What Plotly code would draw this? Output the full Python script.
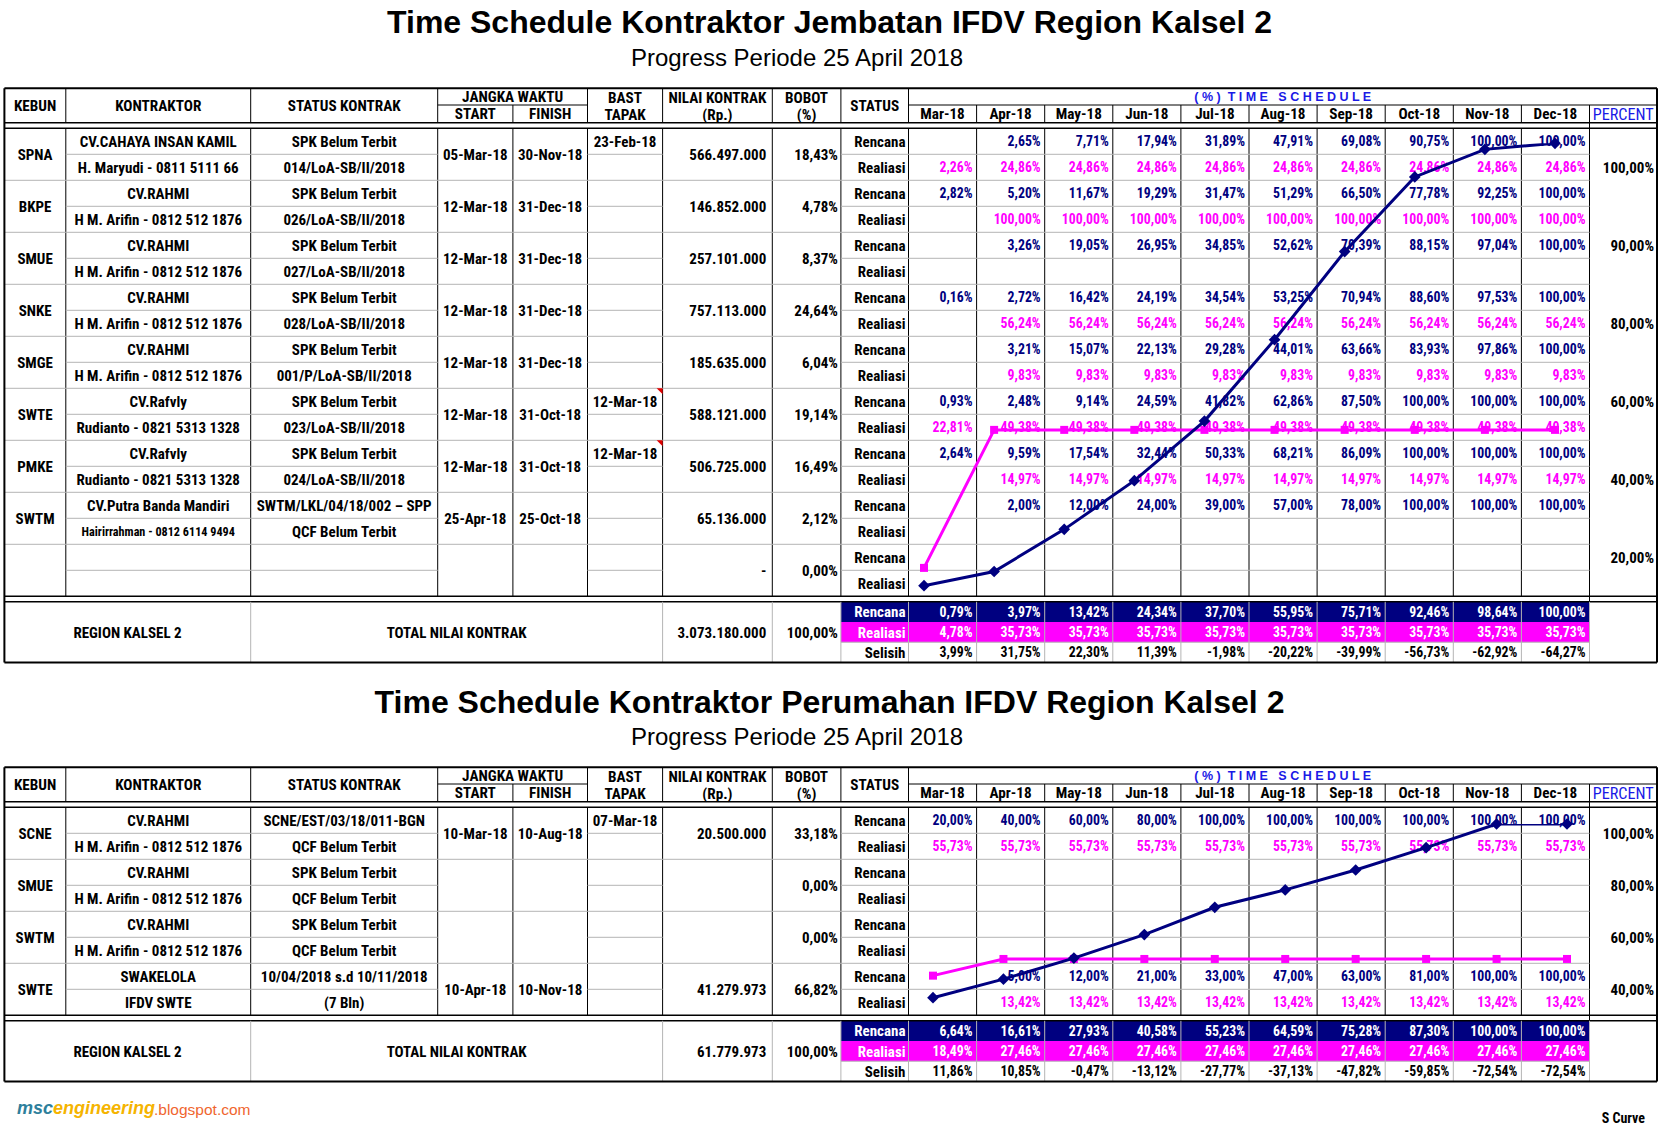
import plotly.graph_objects as go

# ===================== DATA =====================
months = ["Mar-18", "Apr-18", "May-18", "Jun-18", "Jul-18",
          "Aug-18", "Sep-18", "Oct-18", "Nov-18", "Dec-18"]

title1 = "Time Schedule Kontraktor Jembatan IFDV Region Kalsel 2"
title2 = "Time Schedule Kontraktor Perumahan IFDV Region Kalsel 2"
subtitle = "Progress Periode 25 April 2018"

N = None

# ---- Table 1 (Jembatan) ----
t1_kebun = ["SPNA", "BKPE", "SMUE", "SNKE", "SMGE", "SWTE", "PMKE", "SWTM", ""]
t1_kontraktor = [
    ["CV.CAHAYA INSAN KAMIL", "H. Maryudi - 0811 5111 66"],
    ["CV.RAHMI", "H M. Arifin - 0812 512 1876"],
    ["CV.RAHMI", "H M. Arifin - 0812 512 1876"],
    ["CV.RAHMI", "H M. Arifin - 0812 512 1876"],
    ["CV.RAHMI", "H M. Arifin - 0812 512 1876"],
    ["CV.Rafvly", "Rudianto - 0821 5313 1328"],
    ["CV.Rafvly", "Rudianto - 0821 5313 1328"],
    ["CV.Putra Banda Mandiri", "Hairirrahman - 0812 6114 9494"],
    ["", ""],
]
t1_status_kontrak = [
    ["SPK Belum Terbit", "014/LoA-SB/II/2018"],
    ["SPK Belum Terbit", "026/LoA-SB/II/2018"],
    ["SPK Belum Terbit", "027/LoA-SB/II/2018"],
    ["SPK Belum Terbit", "028/LoA-SB/II/2018"],
    ["SPK Belum Terbit", "001/P/LoA-SB/II/2018"],
    ["SPK Belum Terbit", "023/LoA-SB/II/2018"],
    ["SPK Belum Terbit", "024/LoA-SB/II/2018"],
    ["SWTM/LKL/04/18/002 \u2013 SPP", "QCF Belum Terbit"],
    ["", ""],
]
t1_start = ["05-Mar-18", "12-Mar-18", "12-Mar-18", "12-Mar-18", "12-Mar-18",
            "12-Mar-18", "12-Mar-18", "25-Apr-18", ""]
t1_finish = ["30-Nov-18", "31-Dec-18", "31-Dec-18", "31-Dec-18", "31-Dec-18",
             "31-Oct-18", "31-Oct-18", "25-Oct-18", ""]
t1_bast = ["23-Feb-18", "", "", "", "", "12-Mar-18", "12-Mar-18", "", ""]
t1_nilai = ["566.497.000", "146.852.000", "257.101.000", "757.113.000", "185.635.000",
            "588.121.000", "506.725.000", "65.136.000", "-"]
t1_bobot = [18.43, 4.78, 8.37, 24.64, 6.04, 19.14, 16.49, 2.12, 0.00]
t1_rencana = [
    [N, 2.65, 7.71, 17.94, 31.89, 47.91, 69.08, 90.75, 100.00, 100.00],
    [2.82, 5.20, 11.67, 19.29, 31.47, 51.29, 66.50, 77.78, 92.25, 100.00],
    [N, 3.26, 19.05, 26.95, 34.85, 52.62, 70.39, 88.15, 97.04, 100.00],
    [0.16, 2.72, 16.42, 24.19, 34.54, 53.25, 70.94, 88.60, 97.53, 100.00],
    [N, 3.21, 15.07, 22.13, 29.28, 44.01, 63.66, 83.93, 97.86, 100.00],
    [0.93, 2.48, 9.14, 24.59, 41.82, 62.86, 87.50, 100.00, 100.00, 100.00],
    [2.64, 9.59, 17.54, 32.44, 50.33, 68.21, 86.09, 100.00, 100.00, 100.00],
    [N, 2.00, 12.00, 24.00, 39.00, 57.00, 78.00, 100.00, 100.00, 100.00],
    [N, N, N, N, N, N, N, N, N, N],
]
t1_realisasi = [
    [2.26, 24.86, 24.86, 24.86, 24.86, 24.86, 24.86, 24.86, 24.86, 24.86],
    [N, 100.00, 100.00, 100.00, 100.00, 100.00, 100.00, 100.00, 100.00, 100.00],
    [N, N, N, N, N, N, N, N, N, N],
    [N, 56.24, 56.24, 56.24, 56.24, 56.24, 56.24, 56.24, 56.24, 56.24],
    [N, 9.83, 9.83, 9.83, 9.83, 9.83, 9.83, 9.83, 9.83, 9.83],
    [22.81, 49.38, 49.38, 49.38, 49.38, 49.38, 49.38, 49.38, 49.38, 49.38],
    [N, 14.97, 14.97, 14.97, 14.97, 14.97, 14.97, 14.97, 14.97, 14.97],
    [N, N, N, N, N, N, N, N, N, N],
    [N, N, N, N, N, N, N, N, N, N],
]
t1_sum_rencana = [0.79, 3.97, 13.42, 24.34, 37.70, 55.95, 75.71, 92.46, 98.64, 100.00]
t1_sum_realisasi = [4.78, 35.73, 35.73, 35.73, 35.73, 35.73, 35.73, 35.73, 35.73, 35.73]
t1_sum_selisih = [3.99, 31.75, 22.30, 11.39, -1.98, -20.22, -39.99, -56.73, -62.92, -64.27]
t1_total_nilai = "3.073.180.000"
t1_total_bobot = 100.00
t1_percent_labels = ["100,00%", "90,00%", "80,00%", "60,00%", "40,00%", "20,00%"]
t1_percent_rows = [1, 4, 7, 10, 13, 16]          # sub-row index where each label sits
t1_comment_marks = [5, 6]                           # BAST cells with a comment marker

# ---- Table 2 (Perumahan) ----
t2_kebun = ["SCNE", "SMUE", "SWTM", "SWTE"]
t2_kontraktor = [
    ["CV.RAHMI", "H M. Arifin - 0812 512 1876"],
    ["CV.RAHMI", "H M. Arifin - 0812 512 1876"],
    ["CV.RAHMI", "H M. Arifin - 0812 512 1876"],
    ["SWAKELOLA", "IFDV SWTE"],
]
t2_status_kontrak = [
    ["SCNE/EST/03/18/011-BGN", "QCF Belum Terbit"],
    ["SPK Belum Terbit", "QCF Belum Terbit"],
    ["SPK Belum Terbit", "QCF Belum Terbit"],
    ["10/04/2018 s.d 10/11/2018", "(7 Bln)"],
]
t2_start = ["10-Mar-18", "", "", "10-Apr-18"]
t2_finish = ["10-Aug-18", "", "", "10-Nov-18"]
t2_bast = ["07-Mar-18", "", "", ""]
t2_nilai = ["20.500.000", "", "", "41.279.973"]
t2_bobot = [33.18, 0.00, 0.00, 66.82]
t2_rencana = [
    [20.00, 40.00, 60.00, 80.00, 100.00, 100.00, 100.00, 100.00, 100.00, 100.00],
    [N, N, N, N, N, N, N, N, N, N],
    [N, N, N, N, N, N, N, N, N, N],
    [N, 5.00, 12.00, 21.00, 33.00, 47.00, 63.00, 81.00, 100.00, 100.00],
]
t2_realisasi = [
    [55.73, 55.73, 55.73, 55.73, 55.73, 55.73, 55.73, 55.73, 55.73, 55.73],
    [N, N, N, N, N, N, N, N, N, N],
    [N, N, N, N, N, N, N, N, N, N],
    [N, 13.42, 13.42, 13.42, 13.42, 13.42, 13.42, 13.42, 13.42, 13.42],
]
t2_sum_rencana = [6.64, 16.61, 27.93, 40.58, 55.23, 64.59, 75.28, 87.30, 100.00, 100.00]
t2_sum_realisasi = [18.49, 27.46, 27.46, 27.46, 27.46, 27.46, 27.46, 27.46, 27.46, 27.46]
t2_sum_selisih = [11.86, 10.85, -0.47, -13.12, -27.77, -37.13, -47.82, -59.85, -72.54, -72.54]
t2_total_nilai = "61.779.973"
t2_total_bobot = 100.00
t2_percent_labels = ["100,00%", "80,00%", "60,00%", "40,00%"]
t2_percent_rows = [0.5, 2.5, 4.5, 6.5]
t2_comment_marks = []

# ===================== STYLE / GEOMETRY =====================
W, H = 1661, 1133
NAVY = "#000080"
MAGENTA = "#FF00FF"
BLUE_HDR = "#1a1ae6"
GRAY = "#b4b4b4"
BLACK = "#000000"
NARROW = "Roboto Condensed, Liberation Sans, Arial, sans-serif"
SANS = "Liberation Sans, Arial, sans-serif"
FS = 15        # body font
FSV = 13.8     # month values
FSH = 15.2     # header font

XL, XR = 4.4, 1657
C_KEBUN, C_KON, C_STK, C_START, C_FIN, C_BAST, C_NIL, C_BOB, C_STAT = (
    65.8, 250.7, 437.7, 512.9, 587.5, 662.6, 772.3, 840.9, 908.5)
MONTH_W = 68.1
M_EDGES = [C_STAT + MONTH_W * k for k in range(11)]
C_PCT = M_EDGES[-1]

ROW = 26.0

shapes = []
TX = dict(x=[], y=[], text=[], pos=[], color=[], size=[], family=[])


def fmt(v):
    if v is None:
        return ""
    return ("%.2f" % v).replace(".", ",") + "%"


def put(x, y, s, align="center", color=BLACK, size=FS, family=NARROW, bold=True):
    if s is None or s == "":
        return
    pos = {"center": "middle center", "right": "middle left", "left": "middle right"}[align]
    TX["x"].append(x)
    TX["y"].append(y + 0.11 * size)
    TX["text"].append("<b>%s</b>" % s if bold else s)
    TX["pos"].append(pos)
    TX["color"].append(color)
    TX["size"].append(size)
    TX["family"].append(family)


def hline(y, x0, x1, color=BLACK, w=1):
    shapes.append(dict(type="line", xref="x", yref="y", x0=x0, x1=x1, y0=y, y1=y,
                       line=dict(color=color, width=w), layer="below"))


def vline(x, y0, y1, color=BLACK, w=1):
    shapes.append(dict(type="line", xref="x", yref="y", x0=x, x1=x, y0=y0, y1=y1,
                       line=dict(color=color, width=w), layer="below"))


def rect(x0, y0, x1, y1, color):
    shapes.append(dict(type="rect", xref="x", yref="y", x0=x0, x1=x1, y0=y0, y1=y1,
                       line=dict(width=0), fillcolor=color, layer="below"))


def draw_table(top, kebun, kontraktor, stk, start, finish, bast, nilai, bobot,
               rencana, realisasi, s_ren, s_rea, s_sel, tot_nilai, tot_bobot,
               pct_labels, pct_rows, marks):
    y_mid = top + 16.7
    y_hb = top + 34.4
    y_b0 = top + 40.0
    ng = len(kebun)
    y_bb = y_b0 + 2 * ROW * ng
    y_s0 = y_bb + 5.5
    sr = 20.2
    y_bot = y_s0 + 3 * sr

    rect(C_BOB, y_s0, C_PCT, y_s0 + sr, NAVY)
    rect(C_BOB, y_s0 + sr, C_PCT, y_s0 + 2 * sr, MAGENTA)

    hline(top, XL, XR, w=2)
    hline(y_mid, C_STK, C_FIN)
    hline(y_mid, C_STAT, XR)
    hline(y_hb, XL, XR, w=1.5)
    hline(y_b0, XL, XR, w=1.5)
    for x in [C_KEBUN, C_KON, C_STK, C_FIN, C_BAST, C_NIL, C_BOB, C_STAT]:
        vline(x, top, y_hb)
    for x in [C_START] + M_EDGES[1:]:
        vline(x, y_mid, y_hb)
    vline(C_PCT, y_hb, y_b0)

    for x in [C_KEBUN, C_KON, C_STK, C_START, C_FIN, C_BAST, C_NIL, C_BOB] + M_EDGES:
        vline(x, y_b0, y_bb)
    for g in range(ng):
        yg = y_b0 + 2 * ROW * g
        if g > 0:
            hline(yg, XL, C_PCT, GRAY)
        ys = yg + ROW
        hline(ys, C_KEBUN, C_STK, GRAY)
        hline(ys, C_FIN, C_BAST, GRAY)
        hline(ys, C_BOB, C_PCT, GRAY)
    hline(y_bb, XL, XR, w=1.5)
    vline(C_PCT, y_bb, y_s0)
    hline(y_s0, XL, XR, w=1.5)

    for x in [C_KON, C_BAST, C_NIL, C_BOB] + M_EDGES:
        vline(x, y_s0, y_bot, GRAY)
    hline(y_s0 + 2 * sr, C_BOB, C_PCT, GRAY)
    hline(y_bot, XL, XR, w=2)
    vline(XL, top, y_bot, w=2)
    vline(XR, top, y_bot, w=2)

    for g in marks:
        yg = y_b0 + 2 * ROW * g
        shapes.append(dict(type="path", xref="x", yref="y",
                           path="M %f %f L %f %f L %f %f Z" % (C_BAST - 6, yg, C_BAST, yg, C_BAST, yg + 6),
                           fillcolor="#e00000", line=dict(width=0), layer="below"))

    yh = (top + y_hb) / 2
    put((XL + C_KEBUN) / 2, yh, "KEBUN", size=FSH)
    put((C_KEBUN + C_KON) / 2, yh, "KONTRAKTOR", size=FSH)
    put((C_KON + C_STK) / 2, yh, "STATUS KONTRAK", size=FSH)
    put((C_STK + C_FIN) / 2, (top + y_mid) / 2, "JANGKA WAKTU", size=FSH)
    put((C_STK + C_START) / 2, (y_mid + y_hb) / 2, "START", size=FSH)
    put((C_START + C_FIN) / 2, (y_mid + y_hb) / 2, "FINISH", size=FSH)
    for (a, b), l1, l2 in [((C_FIN, C_BAST), "BAST", "TAPAK"),
                           ((C_BAST, C_NIL), "NILAI KONTRAK", "(Rp.)"),
                           ((C_NIL, C_BOB), "BOBOT", "(%)")]:
        put((a + b) / 2, top + 9.2, l1, size=FSH)
        put((a + b) / 2, top + 25.8, l2, size=FSH)
    put((C_BOB + C_STAT) / 2, yh, "STATUS", size=FSH)
    put((C_STAT + XR) / 2, (top + y_mid) / 2,
        "( % )  T I M E   S C H E D U L E", color=BLUE_HDR, size=12.5, family=SANS, bold=True)
    for i, m in enumerate(months):
        put((M_EDGES[i] + M_EDGES[i + 1]) / 2, (y_mid + y_hb) / 2, m, size=FSH)
    put((C_PCT + XR) / 2, (y_mid + y_hb) / 2, "PERCENT", color=BLUE_HDR, size=FSH + 1, bold=False)

    for g in range(ng):
        yg = y_b0 + 2 * ROW * g
        y0c, y1c, ygc = yg + ROW / 2, yg + 1.5 * ROW, yg + ROW
        put((XL + C_KEBUN) / 2, ygc, kebun[g])
        k0, k1 = kontraktor[g]
        put((C_KEBUN + C_KON) / 2, y0c, k0)
        put((C_KEBUN + C_KON) / 2, y1c, k1, size=(12.2 if len(k1) > 27 else FS))
        put((C_KON + C_STK) / 2, y0c, stk[g][0])
        put((C_KON + C_STK) / 2, y1c, stk[g][1])
        put((C_STK + C_START) / 2, ygc, start[g])
        put((C_START + C_FIN) / 2, ygc, finish[g])
        put((C_FIN + C_BAST) / 2, y0c, bast[g])
        put(C_NIL - 6, ygc, nilai[g], align="right")
        put(C_BOB - 3, ygc, fmt(bobot[g]), align="right")
        put(C_STAT - 3, y0c, "Rencana", align="right")
        put(C_STAT - 3, y1c, "Realiasi", align="right")
        for i in range(10):
            put(M_EDGES[i + 1] - 4, y0c, fmt(rencana[g][i]), align="right", color=NAVY, size=FSV)
            put(M_EDGES[i + 1] - 4, y1c, fmt(realisasi[g][i]), align="right", color=MAGENTA, size=FSV)
    for lab, r in zip(pct_labels, pct_rows):
        put(XR - 3, y_b0 + ROW * (r + 0.5), lab, align="right", size=FS)

    ysm = y_s0 + 1.5 * sr
    put((XL + C_KON) / 2, ysm, "REGION KALSEL 2")
    put((C_KON + C_BAST) / 2, ysm, "TOTAL NILAI KONTRAK")
    put(C_NIL - 6, ysm, tot_nilai, align="right")
    put(C_BOB - 3, ysm, fmt(tot_bobot), align="right")
    put(C_STAT - 3, y_s0 + 0.5 * sr, "Rencana", align="right", color="#ffffff")
    put(C_STAT - 3, y_s0 + 1.5 * sr, "Realiasi", align="right", color="#ffffff")
    put(C_STAT - 3, y_s0 + 2.5 * sr, "Selisih", align="right")
    for i in range(10):
        xr = M_EDGES[i + 1] - 4
        put(xr, y_s0 + 0.5 * sr, fmt(s_ren[i]), align="right", color="#ffffff", size=FSV)
        put(xr, y_s0 + 1.5 * sr, fmt(s_rea[i]), align="right", color="#ffffff", size=FSV)
        put(xr, y_s0 + 2.5 * sr, fmt(s_sel[i]), align="right", size=FSV)


draw_table(88.3, t1_kebun, t1_kontraktor, t1_status_kontrak, t1_start, t1_finish, t1_bast,
           t1_nilai, t1_bobot, t1_rencana, t1_realisasi, t1_sum_rencana, t1_sum_realisasi,
           t1_sum_selisih, t1_total_nilai, t1_total_bobot, t1_percent_labels, t1_percent_rows,
           t1_comment_marks)
draw_table(767.3, t2_kebun, t2_kontraktor, t2_status_kontrak, t2_start, t2_finish, t2_bast,
           t2_nilai, t2_bobot, t2_rencana, t2_realisasi, t2_sum_rencana, t2_sum_realisasi,
           t2_sum_selisih, t2_total_nilai, t2_total_bobot, t2_percent_labels, t2_percent_rows,
           t2_comment_marks)

put(W / 2 - 1, 21, title1, size=32, family=SANS)
put(797, 57.5, subtitle, size=24, family=SANS, bold=False)
put(W / 2 - 1, 701, title2, size=32, family=SANS)
put(797, 736, subtitle, size=24, family=SANS, bold=False)
put(1645, 1118, "S Curve", align="right", size=14)

fig = go.Figure()

fig.add_trace(go.Scatter(
    x=TX["x"], y=TX["y"], text=TX["text"], mode="text",
    textposition=TX["pos"],
    textfont=dict(color=TX["color"], size=TX["size"], family=TX["family"]),
    hoverinfo="skip", showlegend=False, cliponaxis=False, xaxis="x", yaxis="y"))


def scurve(rencana, realisasi, xa, ya):
    fig.add_trace(go.Scatter(
        x=months, y=realisasi, mode="lines+markers", name="Realisasi",
        line=dict(color=MAGENTA, width=3), marker=dict(symbol="square", size=8, color=MAGENTA),
        hoverinfo="skip", showlegend=False, cliponaxis=False, xaxis=xa, yaxis=ya))
    fig.add_trace(go.Scatter(
        x=months, y=rencana, mode="lines+markers", name="Rencana",
        line=dict(color=NAVY, width=3), marker=dict(symbol="diamond", size=9, color=NAVY),
        hoverinfo="skip", showlegend=False, cliponaxis=False, xaxis=xa, yaxis=ya))


scurve(t1_sum_rencana, t1_sum_realisasi, "x2", "y2")
scurve(t2_sum_rencana, t2_sum_realisasi, "x3", "y3")

ann = [
    dict(x=15, y=1108, xref="x", yref="y", xanchor="left", yanchor="middle", showarrow=False,
         text="<b><i><span style='color:#2e7f9c'>msc</span><span style='color:#f5b400'>engineering</span></i></b>",
         font=dict(family=SANS, size=18)),
    dict(x=152, y=1109, xref="x", yref="y", xanchor="left", yanchor="middle", showarrow=False,
         text=".blogspot.com", font=dict(family=SANS, size=15.5, color="#f0652e")),
]


def px_dom_x(a, b):
    return [a / W, b / W]


def px_dom_y(top, bottom):
    return [1 - bottom / H, 1 - top / H]


step1 = (1555 - 924) / 9.0
step2 = (1567 - 933) / 9.0
hidden = dict(visible=False, fixedrange=True)
fig.update_layout(
    width=W, height=H, margin=dict(l=0, r=0, t=0, b=0),
    paper_bgcolor="white", plot_bgcolor="rgba(0,0,0,0)",
    showlegend=False, shapes=shapes, annotations=ann,
    xaxis=dict(range=[0, W], domain=[0, 1], **hidden),
    yaxis=dict(range=[H, 0], domain=[0, 1], **hidden),
    xaxis2=dict(type="category", range=[-0.5, 9.5], anchor="y2",
                domain=px_dom_x(924 - step1 / 2, 1555 + step1 / 2), **hidden),
    yaxis2=dict(range=[0, 100], anchor="x2", domain=px_dom_y(143.3, 589.2), **hidden),
    xaxis3=dict(type="category", range=[-0.5, 9.5], anchor="y3",
                domain=px_dom_x(933 - step2 / 2, 1567 + step2 / 2), **hidden),
    yaxis3=dict(range=[0, 100], anchor="x3", domain=px_dom_y(824, 1010.05), **hidden),
)

fig.write_html("out.html", include_plotlyjs=True, full_html=True,
               config={"displayModeBar": False, "staticPlot": True},
               post_script="document.body.style.margin='0';document.body.style.overflow='hidden';")
